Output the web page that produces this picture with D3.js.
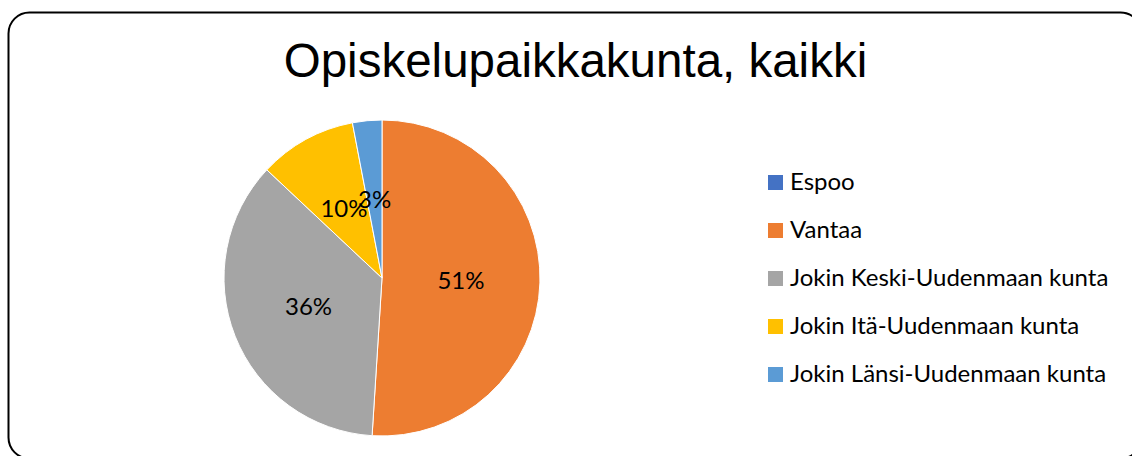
<!DOCTYPE html>
<html lang="fi">
<head>
  <meta charset="UTF-8">
  <title>Opiskelupaikkakunta, kaikki</title>
  <script src="https://d3js.org/d3.v7.min.js"></script>
  <style>
    body { margin: 0; background: #fff; }
  </style>
</head>
<body>
  <div id="chart"></div>
  <script>
    const categories = ["Espoo", "Vantaa", "Jokin Keski-Uudenmaan kunta", "Jokin Itä-Uudenmaan kunta", "Jokin Länsi-Uudenmaan kunta"];
    const values = [0, 51, 36, 10, 3];
    const colors = ["#4472C4", "#ED7D31", "#A5A5A5", "#FFC000", "#5B9BD5"];

    const width = 1132;
    const height = 456;

    const svg = d3.select("#chart")
      .append("svg")
      .attr("width", width)
      .attr("height", height)
      .style("display", "block");

    // chart frame, rounded corners, runs a bit off the right edge
    svg.append("rect")
      .attr("x", 8.5)
      .attr("y", 12.5)
      .attr("width", 1133)
      .attr("height", 446)
      .attr("rx", 21)
      .attr("fill", "#fff")
      .attr("stroke", "#000")
      .attr("stroke-width", 2);

    svg.append("text")
      .attr("x", 575.5)
      .attr("y", 77)
      .attr("text-anchor", "middle")
      .style("font-family", "'Liberation Sans', Arial, sans-serif")
      .style("font-size", "47.5px")
      .text("Opiskelupaikkakunta, kaikki");

    const radius = 158;
    const pieG = svg.append("g").attr("transform", "translate(382,278)");

    const pie = d3.pie().sort(null).value(d => d.value);
    const arcs = pie(categories.map((c, i) => ({ name: c, value: values[i], color: colors[i] })));
    const arc = d3.arc().innerRadius(0).outerRadius(radius);
    const labelArc = d3.arc().innerRadius(radius * 0.5).outerRadius(radius * 0.5);

    pieG.selectAll("path")
      .data(arcs)
      .enter()
      .append("path")
      .attr("d", arc)
      .attr("fill", d => d.data.color)
      .attr("stroke", "#fff")
      .attr("stroke-width", 1);

    // data labels (0% slice has none, 10% and 3% overlap as in the original)
    const total = d3.sum(values);
    pieG.selectAll(".lbl")
      .data(arcs.filter(d => d.data.value > 0))
      .enter()
      .append("text")
      .attr("class", "lbl")
      .attr("transform", d => `translate(${labelArc.centroid(d)})`)
      .attr("text-anchor", "middle")
      .attr("dy", "0.35em")
      .style("font-family", "Lato, 'Open Sans', sans-serif")
      .style("font-size", "24px")
      .style("fill", "#000")
      .text(d => Math.round(d.data.value / total * 100) + "%");

    // legend
    const legend = svg.append("g").attr("transform", "translate(768,182)");
    const rows = legend.selectAll("g")
      .data(categories)
      .enter()
      .append("g")
      .attr("transform", (d, i) => `translate(0,${i * 48})`);

    rows.append("rect")
      .attr("x", 0)
      .attr("y", -7)
      .attr("width", 15)
      .attr("height", 15)
      .attr("fill", (d, i) => colors[i]);

    rows.append("text")
      .attr("x", 22)
      .attr("y", 0)
      .attr("dy", "0.35em")
      .style("font-family", "Lato, 'Open Sans', sans-serif")
      .style("font-size", "24px")
      .style("fill", "#000")
      .text(d => d);
  </script>
</body>
</html>
